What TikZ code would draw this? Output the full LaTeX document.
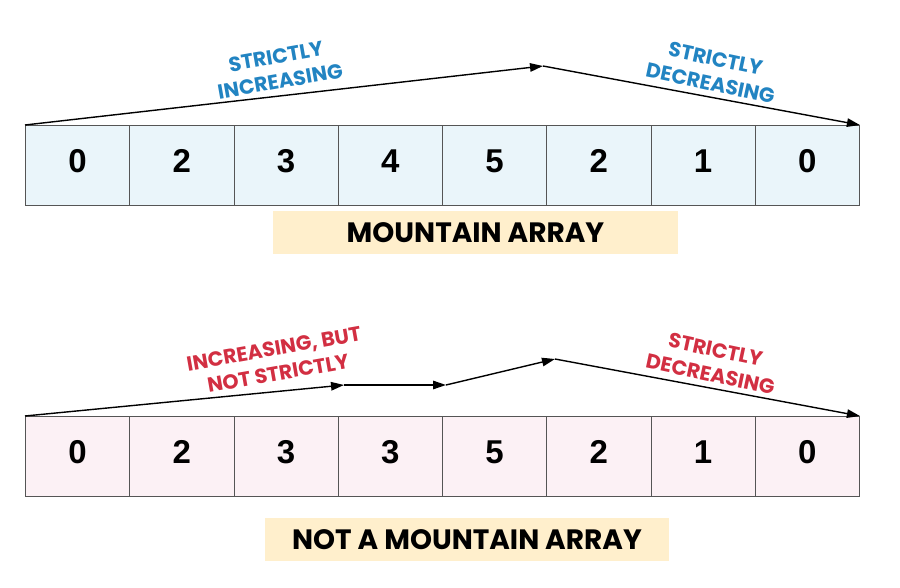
\documentclass[tikz,border=0pt]{standalone}
\usepackage{fontspec}
\setmainfont{Liberation Sans}
\newfontfamily\labelfont{Poppins}
\usetikzlibrary{arrows.meta}
\definecolor{cellblue}{HTML}{EAF5FA}
\definecolor{cellpink}{HTML}{FCF1F5}
\definecolor{cellborder}{HTML}{555555}
\definecolor{tagfill}{HTML}{FFEFCC}
\definecolor{annblue}{HTML}{2284C2}
\definecolor{annred}{HTML}{D22F42}
\tikzset{
  cellbox/.style={draw=cellborder, line width=0.9pt, minimum width=104.25pt, minimum height=80pt, inner sep=0pt, anchor=north west},
  digit/.style={inner sep=0pt, font=\fontsize{33}{33}\selectfont\bfseries},
  tagbox/.style={fill=tagfill, inner sep=0pt, font=\labelfont\bfseries\fontsize{28}{28}\selectfont},
  ann/.style={align=center, inner sep=1pt, font=\labelfont\bfseries\fontsize{20.5}{25}\selectfont},
  flow/.style={line width=1.4pt, -{Triangle[length=13pt,width=8.5pt]}}
}
\begin{document}
\begin{tikzpicture}[x=1pt,y=-1pt]
\useasboundingbox (0,0) rectangle (900,588);
% top array
\foreach \v [count=\i from 0] in {0,2,3,4,5,2,1,0} {
  \node[cellbox, fill=cellblue] (t\i) at ({25+104.25*\i},125) {};
  \node[digit] (tv\i) at ([yshift=4pt]t\i.center) {\v};
}
% bottom array
\foreach \v [count=\i from 0] in {0,2,3,3,5,2,1,0} {
  \node[cellbox, fill=cellpink] (b\i) at ({25+104.25*\i},416) {};
  \node[digit] (bv\i) at ([yshift=4pt]b\i.center) {\v};
}
% tag boxes
\node[tagbox, minimum width=405pt, minimum height=43pt] (tagT) at (475.5,232.5) {MOUNTAIN ARRAY};
\node[tagbox, minimum width=404pt, minimum height=43pt] (tagB) at (467,539.5) {NOT A MOUNTAIN ARRAY};
% top arrows
\coordinate (peakT) at (543,66);
\draw[flow] (t0.north west) -- (peakT);
\draw[flow] (peakT) -- (t7.north east);
\node[ann, text=annblue, rotate=10] (incT) at (278,69) {STRICTLY\\INCREASING};
\node[ann, text=annblue, rotate=-12] (decT) at (713,71) {STRICTLY\\DECREASING};
% bottom arrows
\coordinate (s1) at (344,385);
\coordinate (s2) at (446,385);
\coordinate (peakB) at (555,359);
\draw[flow] (b0.north west) -- (s1);
\draw[flow] (s1) -- (s2);
\draw[flow] (s2) -- (peakB);
\draw[flow] (peakB) -- (b7.north east);
\node[ann, text=annred, rotate=10] (incB) at (276,361) {INCREASING, BUT\\NOT STRICTLY};
\node[ann, text=annred, rotate=-12] (decB) at (713,362) {STRICTLY\\DECREASING};
\end{tikzpicture}
\end{document}
